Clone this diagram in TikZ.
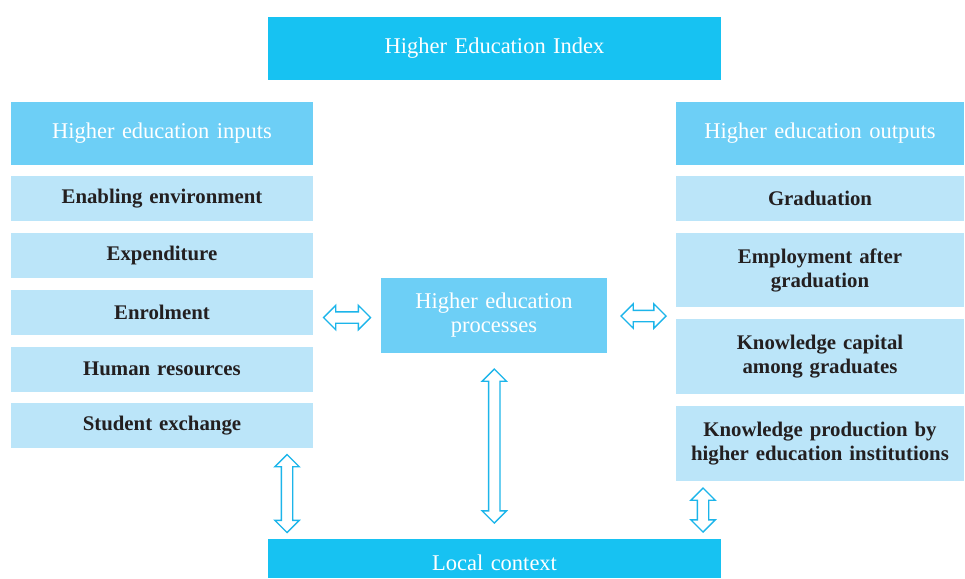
\documentclass[tikz,border=0pt]{standalone}
\usepackage{fontspec}
\setmainfont{Liberation Serif}
\usetikzlibrary{shapes.arrows,calc}
\definecolor{topc}{HTML}{17C2F2}
\definecolor{headc}{HTML}{6DCFF6}
\definecolor{itemc}{HTML}{BBE5F9}
\definecolor{arrc}{HTML}{1CB5EA}
\definecolor{txtc}{HTML}{231F20}
\begin{document}
\begin{tikzpicture}[x=1pt,y=-1pt,
  basebox/.style={rectangle, inner sep=0pt, align=center, text width=#1, minimum width=#1},
  topbox/.style={basebox=453pt, fill=topc, text=white, font=\fontsize{22.5}{24}\selectfont},
  headbox/.style={basebox=#1, fill=headc, text=white, font=\fontsize{22.5}{24}\selectfont},
  itembox/.style={basebox=#1, fill=itemc, text=txtc, font=\bfseries\fontsize{20.8}{24}\selectfont},
  dblarrow/.style={double arrow, draw=arrc, fill=white, line width=1.4pt, inner xsep=0pt, inner ysep=5pt,
    minimum width=23pt, double arrow head extend=6.5pt, minimum height=#1}
]
\useasboundingbox (0,0) rectangle (965,578);
\node[topbox, minimum height=63pt] (hei) at (494.5,48.5) {Higher Education Index};

\node[headbox=302pt, minimum height=63pt] (inp) at (162,133.5) {Higher education inputs};
\node[itembox=302pt, minimum height=45pt] (env) at (162,198.5) {Enabling environment};
\node[itembox=302pt, minimum height=45pt] (exp) at (162,255.5) {Expenditure};
\node[itembox=302pt, minimum height=45pt] (enr) at (162,312.5) {Enrolment};
\node[itembox=302pt, minimum height=45pt] (hum) at (162,369) {Human resources};
\node[itembox=302pt, minimum height=45pt] (stu) at (162,425.5) {Student exchange};

\node[headbox=226pt, minimum height=75pt] (proc) at (494,315.5) {Higher education\\processes};

\node[headbox=288pt, minimum height=63pt] (outp) at (820,133.5) {Higher education outputs};
\node[itembox=288pt, minimum height=45pt] (grad) at (820,198.5) {Graduation};
\node[itembox=288pt, minimum height=74pt] (empl) at (820,270) {Employment after\\graduation};
\node[itembox=288pt, minimum height=75pt] (kcap) at (820,356.5) {Knowledge capital\\among graduates};
\node[itembox=288pt, minimum height=75pt] (kprod) at (820,443.5) {Knowledge production by\\higher education institutions};

\node[topbox, minimum height=39pt, text depth=0pt] (loc) at (494.5,558.5) {\raisebox{-8pt}{Local context}};

\node[dblarrow=47pt] (a1) at ($(enr.east)!0.5!(proc.west)+(0,3.5)$) {};
\node[dblarrow=45pt] (a2) at ($(proc.east)!0.5!(empl.west|-proc.east)+(2,0.5)$) {};
\node[dblarrow=154pt, rotate=90] (a3) at ($(proc.south)!0.5!(loc.north)$) {};
\node[dblarrow=78pt, rotate=90] (a4) at ($(stu.south-|287,0)!0.5!(loc.north-|287,0)$) {};
\node[dblarrow=44pt, rotate=90] (a5) at ($(kprod.south-|703,0)!0.5!(loc.north-|703,0)$) {};
\end{tikzpicture}
\end{document}
